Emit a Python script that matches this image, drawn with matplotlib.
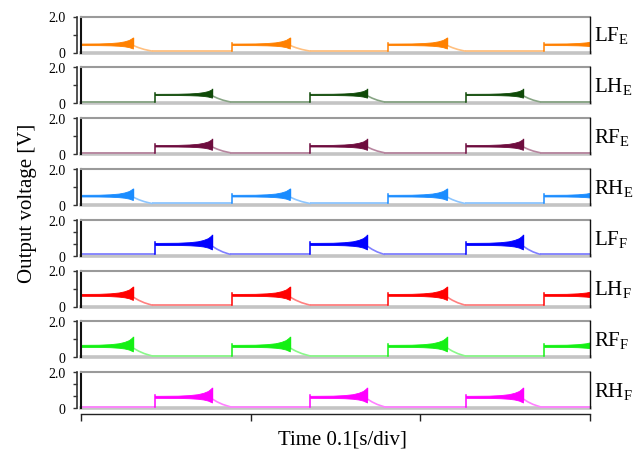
import matplotlib
matplotlib.use("Agg")
import matplotlib.pyplot as plt
from matplotlib.lines import Line2D
import numpy as np

# ---------------- data ----------------
panel_names = ['LF', 'LH', 'RF', 'RH', 'LF', 'LH', 'RF', 'RH']
panel_subs = ['E', 'E', 'E', 'E', 'F', 'F', 'F', 'F']
panel_colors = ['#ff8000', '#0f4a08', '#6e0c3e', '#1a8cff',
                '#0000ff', '#ff0000', '#14f014', '#ff00ff']
panel_phase = ['A', 'B', 'B', 'A', 'B', 'A', 'A', 'B']
plateau_v = [0.45, 0.49, 0.46, 0.51, 0.65, 0.64, 0.63, 0.62]   # V (x10 scale)
peak_v = [0.83, 0.78, 0.83, 0.91, 1.15, 1.10, 1.13, 1.13]
ytick_count = [3, 3, 3, 3, 4, 3, 3, 4]

# burst timing [s]
step_A = [-0.0029, 0.0890, 0.1809, 0.2729]
peak_A = [0.0306, 0.1231, 0.2157, 0.3060]
end_A = [0.0418, 0.1349, 0.2263, 0.3180]
step_B = [0.0436, 0.1349, 0.2269]
peak_B = [0.0772, 0.1686, 0.2605]
end_B = [0.0878, 0.1786, 0.2705]

# envelope key points of one burst (fraction of on-time -> fraction of rise)
env_u = [0.0, 0.4, 0.6, 0.75, 0.85, 0.93, 1.0]
env_up = [0.12, 0.14, 0.20, 0.30, 0.45, 0.65, 1.0]
env_lo = [0.10, 0.11, 0.14, 0.20, 0.28, 0.40, 0.60]
# decay key points (fraction of decay time -> fraction of plateau)
dec_u = [0.0, 0.3, 0.6, 0.85, 1.0]
dec_v = [0.70, 0.42, 0.20, 0.07, 0.0]

base_v = 0.08
ymax = 2.0
t_max = 0.3
xticks = [0.0, 0.1, 0.2, 0.3]

# ---------------- fonts ----------------
plt.rcParams['font.family'] = ['Liberation Serif', 'DejaVu Serif']
plt.rcParams['mathtext.fontset'] = 'custom'
plt.rcParams['mathtext.rm'] = 'Liberation Serif'
plt.rcParams['mathtext.it'] = 'Liberation Serif:italic'


def lighten(c, f):
    rgb = np.array(matplotlib.colors.to_rgb(c))
    return tuple(rgb + (1 - rgb) * f)


W, H = 633, 452
fig = plt.figure(figsize=(W / 100, H / 100), dpi=100)

x0_px, x1_px = 81, 590
top0, pitch, ph = 17.5, 50.8, 36

for i in range(8):
    top = top0 + pitch * i
    ax = fig.add_axes([x0_px / W, 1 - (top + ph) / H, (x1_px - x0_px) / W, ph / H])
    ax.set_xlim(0, t_max)
    ax.set_ylim(0, ymax)
    col = panel_colors[i]
    light = lighten(col, 0.5)
    p, P = plateau_v[i], peak_v[i]
    if panel_phase[i] == 'A':
        st, pk, en = step_A, peak_A, end_A
    else:
        st, pk, en = step_B, peak_B, end_B

    # baseline segments between bursts
    starts = [-0.05] + list(en)
    stops = list(st) + [0.35]
    for a, b in zip(starts, stops):
        if b > a:
            ax.plot([a, b], [base_v, base_v], color=light, lw=1.3,
                    solid_capstyle='butt', zorder=3)

    for ts, tp, te in zip(st, pk, en):
        d = tp - ts
        tt = [ts + u * d for u in env_u]
        up = [p + f * (P - p) for f in env_up]
        lo = [p - f * (P - p) for f in env_lo]
        ax.fill_between(tt, lo, up, color=col, lw=0.6, edgecolor=col, zorder=4)
        # step edge with tiny overshoot
        ax.plot([ts, ts], [base_v, p + 0.1], color=col, lw=1.1, zorder=4)
        # vertical drop at the spike
        ax.plot([tp, tp], [P, base_v + p * dec_v[0]], color=col, lw=1.0, zorder=4)
        # decay tail
        dd = te - tp
        ax.plot([tp + u * dd for u in dec_u], [base_v + v * p for v in dec_v],
                color=light, lw=1.2, zorder=3)

    # frame
    for xs, ys, c, lw, z in [([0, 0], [0, 1], '#111111', 1.5, 5),
                             ([0, 1], [1, 1], '#9a9a9a', 1.5, 5),
                             ([1, 1], [0, 1], '#111111', 1.0, 5),
                             ([0, 1], [0, 0], '#c4c4c4', 2.6, 1)]:
        ax.add_line(Line2D(xs, ys, transform=ax.transAxes, color=c, lw=lw,
                           clip_on=False, zorder=z))

    for s in ['top', 'right']:
        ax.spines[s].set_visible(False)
    ax.spines['left'].set_position(('outward', 3))
    ax.spines['left'].set_color('#333333')
    ax.spines['left'].set_linewidth(1.2)
    n = ytick_count[i]
    ax.set_yticks([ymax * k / (n - 1) for k in range(n)])
    ax.set_yticklabels(['0'] + [''] * (n - 2) + ['2.0'])
    ax.tick_params(axis='y', direction='out', length=3, width=1.0,
                   color='#333333', labelsize=10, pad=5)
    if i == 7:
        ax.spines['bottom'].set_position(('outward', 4))
        ax.spines['bottom'].set_color('#222222')
        ax.spines['bottom'].set_linewidth(1.0)
        ax.set_xticks(xticks)
        ax.set_xticklabels([''] * len(xticks))
        ax.tick_params(axis='x', direction='out', length=5, width=1.0,
                       color='#222222')
    else:
        ax.spines['bottom'].set_visible(False)
        ax.set_xticks([])
    ax.patch.set_alpha(0)

    fig.text(594 / W, 1 - (top + ph / 2 + 0.5) / H,
             r'$\mathrm{%s}_{\mathrm{%s}}$' % (panel_names[i], panel_subs[i]),
             fontsize=15, ha='left', va='center')

fig.text(28 / W, 1 - 203 / H, 'Output voltage [V]', rotation=90,
         fontsize=15, ha='center', va='center')
fig.text(342 / W, 1 - 440 / H, 'Time 0.1[s/div]', fontsize=15,
         ha='center', va='center')

fig.savefig('out.png', dpi=100)
